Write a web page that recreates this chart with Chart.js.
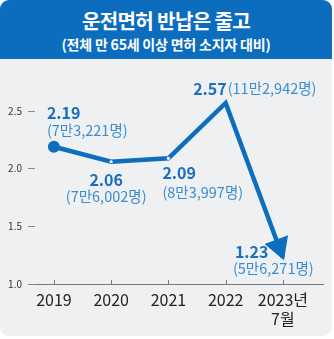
<!DOCTYPE html>
<html>
<head>
<meta charset="utf-8">
<script src="https://cdn.jsdelivr.net/npm/chart.js@4"></script>
<style>
  body { margin: 0; background: #fff; font-family: 'Noto Sans CJK KR', 'Noto Sans', sans-serif; }
  #card { position: absolute; left: 0; top: 0; width: 332px; height: 336px; background: #eef0f1; border-radius: 9px; overflow: hidden; }
  #head { height: 59px; background: #0c6dbf; color: #fff; text-align: center; }
  #head h1 { margin: 0; padding-top: 6px; font-size: 20px; font-weight: 700; letter-spacing: -0.6px; line-height: 30px; }
  #head p { margin: 0; font-size: 14px; font-weight: 700; letter-spacing: -0.2px; line-height: 16px; }
  #myChart { position: absolute; left: 0; top: 0; }
</style>
</head>
<body>
<div id="card">
  <div id="head">
    <h1>운전면허 반납은 줄고</h1>
    <p>(전체 만 65세 이상 면허 소지자 대비)</p>
  </div>
</div>
<canvas id="myChart" width="334" height="339"></canvas>
<script>
var years = ['2019', '2020', '2021', '2022', ['2023년', '7월']];
var ratios = [2.19, 2.06, 2.09, 2.57, 1.23];
var counts = ['7만3,221명', '7만6,002명', '8만3,997명', '11만2,942명', '5만6,271명'];
var yTicks = [1.0, 1.5, 2.0, 2.5];

var BLUE = '#0d6ebf';
var FONT = "'Noto Sans CJK KR', 'Noto Sans', sans-serif";
Chart.defaults.font.family = FONT;

// where each value label sits relative to its point
var labelPos = [
  {align: 'left', dx: -7, vy: -34, cdx: -7, cy: -16},
  {align: 'center', dx: -5, vy: 18, cdx: -5, cy: 35},
  {align: 'left', dx: -6, vy: 15, cdx: -6, cy: 34},
  {inline: true, dx: 1, vy: -14},
  {align: 'left', dx: -48, vy: -6, cdx: -50, cy: 11}
];

var decorations = {
  id: 'decorations',
  afterDatasetsDraw: function(chart) {
    var ctx = chart.ctx;
    var area = chart.chartArea;
    var xs = chart.scales.x;
    var pts = chart.getDatasetMeta(0).data;

    // small tick marks standing on the x axis
    ctx.save();
    ctx.strokeStyle = '#777';
    ctx.lineWidth = 1;
    for (var i = 0; i < years.length; i++) {
      var px = Math.round(xs.getPixelForValue(i)) + 0.5;
      ctx.beginPath();
      ctx.moveTo(px, area.bottom - 4);
      ctx.lineTo(px, area.bottom);
      ctx.stroke();
    }

    // arrow head on the last segment
    var a = pts[pts.length - 2], b = pts[pts.length - 1];
    var ux = b.x - a.x, uy = b.y - a.y;
    var len = Math.sqrt(ux * ux + uy * uy);
    ux /= len; uy /= len;
    var tx = b.x + ux * 3, ty = b.y + uy * 3;
    var bx = tx - ux * 22, by = ty - uy * 22;
    ctx.fillStyle = BLUE;
    ctx.beginPath();
    ctx.moveTo(tx, ty);
    ctx.lineTo(bx - uy * 12.5, by + ux * 12.5);
    ctx.lineTo(bx + uy * 12.5, by - ux * 12.5);
    ctx.closePath();
    ctx.fill();

    // value + head-count labels
    ctx.textBaseline = 'middle';
    for (var j = 0; j < pts.length; j++) {
      var p = pts[j], lp = labelPos[j];
      var val = ratios[j].toFixed(2);
      var cnt = '(' + counts[j] + ')';
      ctx.font = 'bold 16px ' + FONT;
      ctx.fillStyle = '#1a6fc0';
      if (lp.inline) {
        ctx.textAlign = 'right';
        ctx.fillText(val, p.x + lp.dx, p.y + lp.vy);
        ctx.font = '14.5px ' + FONT;
        ctx.fillStyle = '#3b8dd3';
        ctx.textAlign = 'left';
        ctx.fillText(cnt, p.x + lp.dx + 1, p.y + lp.vy);
      } else {
        ctx.textAlign = lp.align;
        ctx.fillText(val, p.x + lp.dx, p.y + lp.vy);
        ctx.font = '14.5px ' + FONT;
        ctx.fillStyle = '#3b8dd3';
        ctx.fillText(cnt, p.x + lp.cdx, p.y + lp.cy);
      }
    }
    ctx.restore();
  }
};

var ctx = document.getElementById('myChart').getContext('2d');
var myChart = new Chart(ctx, {
  type: 'line',
  data: {
    datasets: [{
      data: ratios.map(function(v, i) { return {x: i, y: v}; }),
      borderColor: BLUE,
      borderWidth: 4.5,
      tension: 0,
      clip: false,
      pointRadius: [6, 1.6, 1.6, 1.6, 0],
      pointBackgroundColor: [BLUE, '#fff', '#fff', '#fff', '#fff'],
      pointBorderWidth: 0,
      fill: false
    }]
  },
  options: {
    responsive: false,
    animation: false,
    layout: {padding: {top: 111, right: 11, bottom: 0, left: 0}},
    plugins: {legend: {display: false}, tooltip: {enabled: false}},
    scales: {
      x: {
        type: 'linear',
        min: -0.33,
        max: 4.7,
        afterBuildTicks: function(s) { s.ticks = years.map(function(_, i) { return {value: i}; }); },
        afterFit: function(s) { s.height = 55; },
        ticks: {
          callback: function(v) { return years[v]; },
          color: '#222',
          font: {size: 16},
          padding: 6,
          maxRotation: 0,
          autoSkip: false
        },
        grid: {display: true, drawOnChartArea: false, drawTicks: false},
        border: {display: true, color: '#777', width: 1}
      },
      y: {
        min: 1.0,
        max: 2.5,
        afterBuildTicks: function(s) { s.ticks = yTicks.map(function(v) { return {value: v}; }); },
        afterFit: function(s) { s.width = 35; },
        ticks: {
          callback: function(v) { return v.toFixed(1); },
          color: '#333',
          font: {size: 10},
          padding: 6
        },
        grid: {drawOnChartArea: false, tickLength: 7, tickColor: '#888'},
        border: {display: false}
      }
    }
  },
  plugins: [decorations]
});
</script>
</body>
</html>
